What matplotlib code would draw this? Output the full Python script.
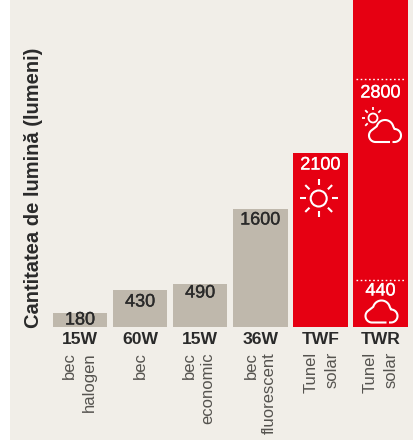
"""Light output of bulbs vs. solar tunnels, bars not to scale as in the print."""

import matplotlib

matplotlib.use("Agg")
import matplotlib.patheffects as pe
import matplotlib.pyplot as plt
import numpy as np
from matplotlib.patches import Circle, Rectangle

BG = "#F1EEE8"
GRAY = "#BFB8AC"
RED = "#E60012"
INK = "#2A2A2A"
SOFT = "#55534F"
FONT = ["Liberation Sans", "DejaVu Sans"]

# the printed bars do not follow the numbers, so heights are read off in px
models = ["15W", "60W", "15W", "36W", "TWF", "TWR"]
values = ["180", "430", "490", "1600", "2100", "2800"]
heights = [14, 37, 43, 118, 174, 340]
is_solar = [False, False, False, False, True, True]
line_one = ["bec", "bec", "bec", "bec", "Tunel", "Tunel"]
line_two = ["halogen", "", "economic", "fluorescent", "solar", "solar"]
twr_levels = [47, 248]
twr_low_label = "440"


def sun(axis, x, y, radius, ray_in, ray_out, angles, width):
    axis.add_patch(Circle((x, y), radius, fill=False, ec="white", lw=width))
    for angle in np.radians(angles):
        axis.plot(
            [x + ray_in * np.cos(angle), x + ray_out * np.cos(angle)],
            [y - ray_in * np.sin(angle), y - ray_out * np.sin(angle)],
            color="white", lw=width, solid_capstyle="butt",
        )


def cloud(axis, x, y, width):
    def arc(cx, cy, r, start, stop):
        t = np.radians(np.linspace(start, stop, 30))
        return cx + r * np.cos(t), cy + r * np.sin(t)

    parts = [
        ([5.0, -9.5], [11.0, 11.0]),
        arc(-9.5, 4.5, 6.5, 90, 235),
        arc(0.0, -2.5, 8.5, 195, 345),
        arc(9.5, 4.5, 6.5, 270, 450),
        ([9.5, 7.5], [11.0, 11.0]),
    ]
    xs = np.concatenate([p[0] for p in parts])
    ys = np.concatenate([p[1] for p in parts])
    axis.plot(x + xs, y + ys, color="white", lw=width, solid_capstyle="butt")


def medium(color):
    return [pe.withStroke(linewidth=0.25, foreground=color)]


fig = plt.figure(figsize=(4.14, 4.40), dpi=100, facecolor="white")

# background panel and a pixel-space layer for text and icons
page = fig.add_axes([0, 0, 1, 1], zorder=0)
page.set_xlim(0, 414)
page.set_ylim(440, 0)
page.axis("off")
page.add_patch(Rectangle((10, 0), 404, 440, color=BG, lw=0))

ax = fig.add_axes([53 / 414, (440 - 327) / 440, 354.6 / 414, 327 / 440], zorder=1)
ax.patch.set_alpha(0)
x = np.arange(len(models))
colors = [RED if solar else GRAY for solar in is_solar]
ax.bar(x, heights, width=54.3 / 60.1, color=colors, linewidth=0)
ax.hlines(twr_levels, 5 - 0.41, 5 + 0.41, color="white", lw=1.0, linestyles=(0, (1.2, 1.8)))
ax.set_xlim(-0.45, 5.45)
ax.set_ylim(0, 327)
ax.axis("off")

top = fig.add_axes([0, 0, 1, 1], zorder=2)
top.set_xlim(0, 414)
top.set_ylim(440, 0)
top.axis("off")

centers = 80 + 60.1 * x
value_y = [320, 302, 293, 220, 165, 93]
one_off = [-11, 0, -11, -9, -9, -10]
two_off = [9, 0, 8, 9, 12, 11]
for i, center in enumerate(centers):
    color = "white" if is_solar[i] else INK
    top.text(center, value_y[i], values[i], ha="center", va="center", fontsize=13,
             color=color, family=FONT, path_effects=medium(color))
    top.text(center, 339, models[i], ha="center", va="center", fontsize=12.6,
             fontweight="bold", color=INK, family=FONT)
    top.text(center + one_off[i], 352, line_one[i], rotation=90, ha="center", va="top",
             fontsize=12, color=SOFT, family=FONT)
    if line_two[i]:
        top.text(center + two_off[i], 352, line_two[i], rotation=90, ha="center", va="top",
                 fontsize=12, color=SOFT, family=FONT)

top.text(centers[5], 291, twr_low_label, ha="center", va="center", fontsize=13,
         color="white", family=FONT, path_effects=medium("white"))
top.text(34, 328, "Cantitatea de lumină (lumeni)", rotation=90, ha="center", va="bottom",
         fontsize=14.5, fontweight="bold", color=INK, family=FONT)

sun(top, 318.7, 198.5, 8, 13, 19, range(0, 360, 45), 1.5)
sun(top, 373, 118, 4.5, 7.5, 11, [180, 135, 90, 45, 225], 1.3)
cloud(top, 385, 131, 1.5)
cloud(top, 381.5, 311.5, 1.5)

fig.savefig("out.png", dpi=100, facecolor=fig.get_facecolor())
